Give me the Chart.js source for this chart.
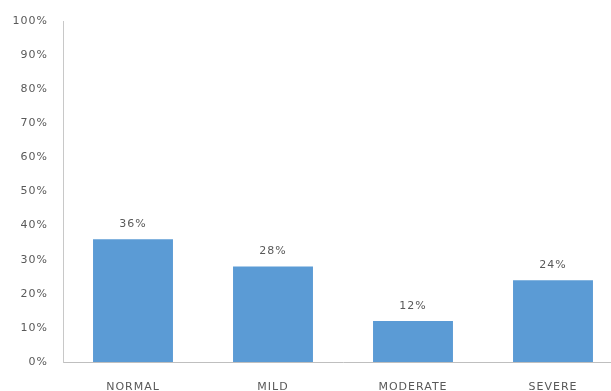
<!DOCTYPE html>
<html>
<head>
<meta charset="utf-8">
<script src="https://cdn.jsdelivr.net/npm/chart.js"></script>
<style>
  html, body { margin: 0; padding: 0; background: #fff; overflow: hidden; }
  #wrap { position: absolute; left: 0; top: 0; width: 623px; height: 391px; }
</style>
</head>
<body>
<div id="wrap"><canvas id="mycanvas" width="623" height="391"></canvas></div>
<script>
var categories = ["NORMAL", "MILD", "MODERATE", "SEVERE"];
var percentValues = [36, 28, 12, 24];
var yTicks = [0, 10, 20, 30, 40, 50, 60, 70, 80, 90, 100];

var textColor = "#595959";
var labelFont = { family: "DejaVu Sans", size: 11 };

// value labels above each bar
var barLabels = {
    id: "barLabels",
    beforeDraw: function (chart) {
        chart.ctx.letterSpacing = "1px";
    },
    afterDatasetsDraw: function (chart) {
        var ctx = chart.ctx;
        var meta = chart.getDatasetMeta(0);
        ctx.save();
        ctx.font = labelFont.size + "px '" + labelFont.family + "'";
        ctx.fillStyle = textColor;
        ctx.textAlign = "center";
        ctx.textBaseline = "middle";
        meta.data.forEach(function (bar, i) {
            ctx.fillText(percentValues[i] + "%", bar.x, bar.y - 15);
        });
        ctx.restore();
    }
};

var chartdata = {
    labels: categories,
    datasets: [
        {
            label: "Percent",
            backgroundColor: "#5B9BD5",
            borderWidth: 0,
            categoryPercentage: 1,
            barPercentage: 0.571,
            data: percentValues
        }
    ]
};

var ctx = document.getElementById("mycanvas");

var BarGraph = new Chart(ctx, {
    type: "bar",
    data: chartdata,
    plugins: [barLabels],
    options: {
        responsive: false,
        animation: false,
        layout: { padding: { top: 21, right: 0, left: 0, bottom: 0 } },
        plugins: {
            legend: { display: false },
            tooltip: { enabled: false }
        },
        scales: {
            x: {
                grid: { display: false },
                border: { display: true, color: "#BFBFBF", width: 1 },
                ticks: { color: textColor, font: labelFont, padding: 11, maxRotation: 0 },
                afterFit: function (scale) { scale.height = 29; }
            },
            y: {
                min: 0,
                max: 100,
                grid: { display: false },
                border: { display: true, color: "#C8C8C8", width: 1 },
                afterBuildTicks: function (scale) {
                    scale.ticks = yTicks.map(function (v) { return { value: v }; });
                },
                ticks: {
                    color: textColor,
                    font: labelFont,
                    padding: 7,
                    callback: function (v) { return v + "%"; }
                },
                afterFit: function (scale) { scale.width = 63; }
            }
        }
    }
});
</script>
</body>
</html>
